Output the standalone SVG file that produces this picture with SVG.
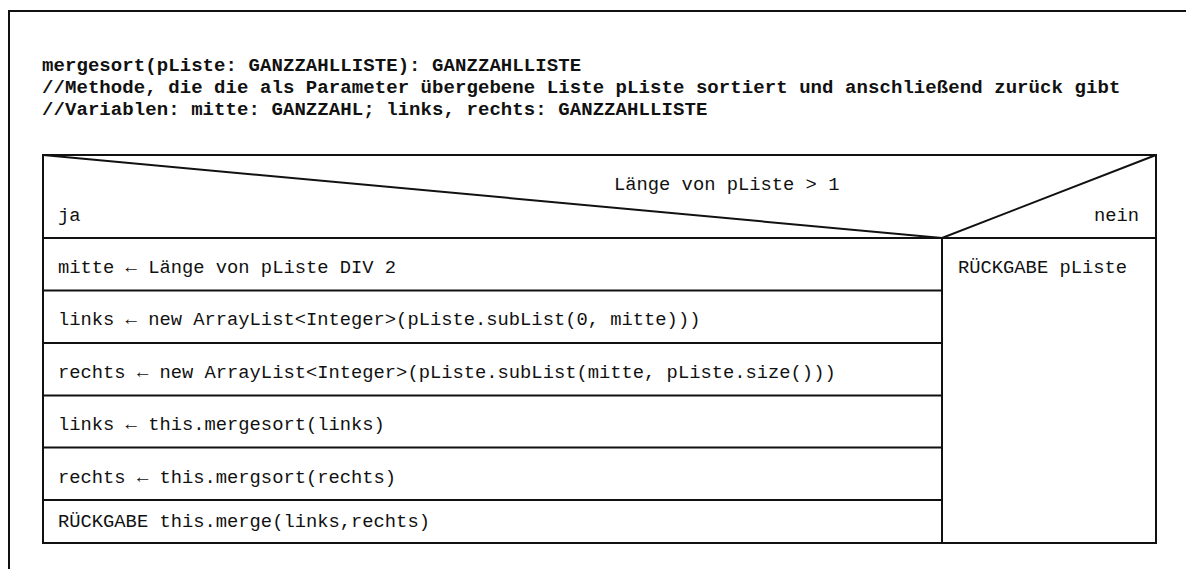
<svg xmlns="http://www.w3.org/2000/svg" width="1186" height="569" viewBox="0 0 1186 569">
  <style>
    .frame { fill: none; stroke: #111; stroke-width: 2; }
    .rule { fill: none; stroke: #111; stroke-width: 2; }
    .code { font-family: "Liberation Mono", "DejaVu Sans Mono", monospace; font-size: 18.8px; fill: #111; }
    .head { font-family: "Liberation Mono", "DejaVu Sans Mono", monospace; font-size: 19px; letter-spacing: 0.07px; font-weight: bold; fill: #111; }
  </style>
  <rect x="0" y="0" width="1186" height="569" fill="#ffffff"/>

  <!-- page frame (continues past the right and bottom edges) -->
  <path class="frame" d="M9,569 V11 H1186"/>

  <!-- method signature and comments -->
  <g id="signature">
    <text class="head" x="42" y="71">mergesort(pListe: GANZZAHLLISTE): GANZZAHLLISTE</text>
    <text class="head" x="42" y="93">//Methode, die die als Parameter übergebene Liste pListe sortiert und anschließend zurück gibt</text>
    <text class="head" x="42" y="115">//Variablen: mitte: GANZZAHL; links, rechts: GANZZAHLLISTE</text>
  </g>

  <!-- structogram outline and dividers -->
  <g id="connectors">
    <rect class="rule" x="43" y="155" width="1113" height="388"/>
    <path class="rule" d="M43,155 L942,238 L1156,155"/>
    <path class="rule" d="M43,238 H1156"/>
    <path class="rule" d="M942,238 V543"/>
    <path class="rule" d="M43,290.5 H942 M43,343 H942 M43,395.5 H942 M43,447.5 H942 M43,500 H942"/>
  </g>

  <!-- decision head -->
  <g id="condition">
    <text class="code" x="614" y="190">Länge von pListe &gt; 1</text>
    <text class="code" x="58" y="221">ja</text>
    <text class="code" x="1139" y="221" text-anchor="end">nein</text>
  </g>

  <!-- "ja" branch -->
  <g id="step-mitte"><text class="code" x="58" y="273">mitte ← Länge von pListe DIV 2</text></g>
  <g id="step-links"><text class="code" x="58" y="325">links ← new ArrayList&lt;Integer&gt;(pListe.subList(0, mitte)))</text></g>
  <g id="step-rechts"><text class="code" x="58" y="377.5">rechts ← new ArrayList&lt;Integer&gt;(pListe.subList(mitte, pListe.size()))</text></g>
  <g id="step-sort-links"><text class="code" x="58" y="430">links ← this.mergesort(links)</text></g>
  <g id="step-sort-rechts"><text class="code" x="58" y="482.5">rechts ← this.mergsort(rechts)</text></g>
  <g id="step-merge"><text class="code" x="58" y="527">RÜCKGABE this.merge(links,rechts)</text></g>

  <!-- "nein" branch -->
  <g id="step-return"><text class="code" x="958" y="273">RÜCKGABE pListe</text></g>
</svg>
